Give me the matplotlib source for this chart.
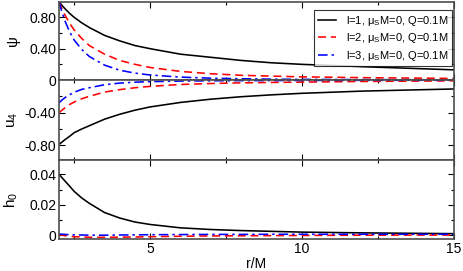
import numpy as np
import matplotlib
matplotlib.use('Agg')
import matplotlib.pyplot as plt
from matplotlib.ticker import FixedLocator, FixedFormatter

plt.rcParams['font.family'] = ['Liberation Sans', 'DejaVu Sans']
plt.rcParams['mathtext.fontset'] = 'custom'
plt.rcParams['mathtext.rm'] = 'Liberation Sans'
plt.rcParams['mathtext.it'] = 'Liberation Sans:italic'

r = [2, 2.1, 2.2, 2.35, 2.5, 2.75, 3, 3.5, 4, 4.5, 5, 6, 7, 8, 9, 10, 12, 15]

psi_l1 = [1.00, 0.952, 0.909, 0.851, 0.80, 0.73, 0.67, 0.57, 0.50, 0.44, 0.40, 0.33, 0.29, 0.25, 0.22, 0.20, 0.17, 0.13]
psi_l2 = [1.00, 0.907, 0.826, 0.724, 0.64, 0.53, 0.44, 0.33, 0.25, 0.20, 0.16, 0.11, 0.08, 0.06, 0.05, 0.04, 0.03, 0.02]
psi_l3 = [1.00, 0.864, 0.751, 0.616, 0.51, 0.39, 0.30, 0.19, 0.125, 0.088, 0.064, 0.037, 0.023, 0.016, 0.011, 0.008, 0.005, 0.002]

u4_l1 = [-0.79, -0.76, -0.73, -0.69, -0.645, -0.60, -0.56, -0.48, -0.42, -0.37, -0.33, -0.275, -0.235, -0.205, -0.182, -0.163, -0.136, -0.11]
u4_l2 = [-0.40, -0.37, -0.34, -0.30, -0.27, -0.23, -0.20, -0.148, -0.118, -0.095, -0.078, -0.055, -0.043, -0.035, -0.030, -0.026, -0.018, -0.010]
u4_l3 = [-0.28, -0.245, -0.215, -0.18, -0.15, -0.115, -0.095, -0.058, -0.038, -0.027, -0.020, -0.013, -0.010, -0.008, -0.007, -0.006, -0.004, -0.003]

h0_l1 = [0.040, 0.0377, 0.0355, 0.0322, 0.0288, 0.0245, 0.0210, 0.0150, 0.0114, 0.0088, 0.0072, 0.0050, 0.0039, 0.0032, 0.0027, 0.0022, 0.0017, 0.0012]
h0_l2 = [0.0005, 0.0002, -0.0001, -0.0005, -0.0008, -0.0010, -0.0012, -0.0012, -0.0011, -0.0010, -0.0008, -0.0005, -0.0003, -0.0002, -0.0001, 0.0000, 0.0002, 0.0003]
h0_l3 = [0.0010, 0.0008, 0.0007, 0.0005, 0.0004, 0.0003, 0.0002, 0.0002, 0.0003, 0.0004, 0.0005, 0.0006, 0.0007, 0.0007, 0.0008, 0.0008, 0.0008, 0.0008]

labels = ['l=1, μ$_\\mathrm{S}$M=0, Q=0.1M', 'l=2, μ$_\\mathrm{S}$M=0, Q=0.1M', 'l=3, μ$_\\mathrm{S}$M=0, Q=0.1M']
colors = ['black', '#ff0000', '#0000ff']
styles = ['-', (0, (5, 3)), (0, (6, 2.5, 1.5, 2.5))]

fig = plt.figure(figsize=(4.63, 2.71), dpi=100)
W, H = 463, 271
left, right = 59 / W, 453.5 / W

def panel(top_px, bot_px):
    return fig.add_axes([left, 1 - bot_px / H, right - left, (bot_px - top_px) / H])

ax1 = panel(1.7, 80)
ax2 = panel(80, 160)
ax3 = panel(160, 239)

data = [(ax1, [psi_l1, psi_l2, psi_l3]),
        (ax2, [u4_l1, u4_l2, u4_l3]),
        (ax3, [h0_l1, h0_l2, h0_l3])]

for ax, ys in data:
    for y, c, ls, lab in zip(ys, colors, styles, labels):
        ax.plot(r, y, color=c, linestyle=ls, lw=1.15, label=lab)
    ax.set_xlim(2, 15)
    ax.xaxis.set_major_locator(FixedLocator([5, 10, 15]))
    ax.xaxis.set_minor_locator(FixedLocator([2.5, 7.5, 12.5]))
    ax.tick_params(which='both', direction='in', top=True, right=True,
                   labelsize=10, pad=2, colors='black')
    ax.tick_params(which='major', length=4, width=0.8)
    ax.tick_params(which='minor', length=2.5, width=0.8)
    for s in ax.spines.values():
        s.set_linewidth(1.2)
        s.set_color('0.3')
    if ax is not ax3:
        ax.tick_params(labelbottom=False)

ax1.set_ylim(0, 1.0)
ax1.yaxis.set_major_locator(FixedLocator([0, 0.4, 0.8]))
ax1.yaxis.set_major_formatter(FixedFormatter(['0', '0.40', '0.80']))
ax1.yaxis.set_minor_locator(FixedLocator([0.2, 0.6]))
ax1.set_ylabel('ψ', fontsize=11)

ax2.set_ylim(-0.98, 0)
ax2.yaxis.set_major_locator(FixedLocator([-0.8, -0.4]))
ax2.yaxis.set_major_formatter(FixedFormatter(['-0.80', '-0.40']))
ax2.yaxis.set_minor_locator(FixedLocator([-0.6, -0.2]))
ax2.set_ylabel('u$_\\mathrm{4}$', fontsize=11)

ax3.set_ylim(-0.0023, 0.0493)
ax3.yaxis.set_major_locator(FixedLocator([0, 0.02, 0.04]))
ax3.yaxis.set_major_formatter(FixedFormatter(['0', '0.02', '0.04']))
ax3.yaxis.set_minor_locator(FixedLocator([0.01, 0.03]))
ax3.set_ylabel('h$_\\mathrm{0}$', fontsize=11)
ax3.set_xlabel('r/M', fontsize=10, labelpad=1)

for ax in (ax1, ax2, ax3):
    ax.yaxis.set_label_coords(-0.098, 0.5)

leg = ax1.legend(loc='upper right', bbox_to_anchor=(0.996, 0.894), fontsize=8,
                 frameon=True, fancybox=False, edgecolor='black',
                 handlelength=1.6, handletextpad=0.9, borderpad=0.35,
                 labelspacing=0.3, borderaxespad=0)
leg.get_frame().set_linewidth(0.8)

fig.savefig('out.png', dpi=100)
